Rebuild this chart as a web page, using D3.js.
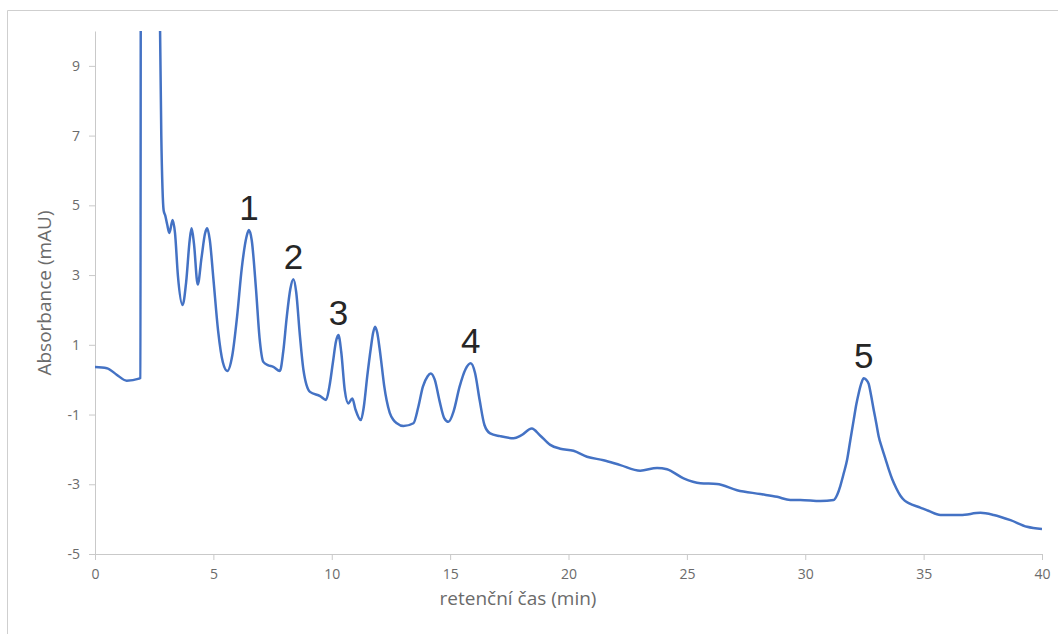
<!DOCTYPE html>
<html>
<head>
<meta charset="utf-8">
<script src="https://cdn.jsdelivr.net/npm/d3@7"></script>
<style>
  body { margin: 0; background: #fff; }
  .axis path, .axis line { stroke: #c9c9c9; }
  .axis text { fill: #6b6b6b; font-family: "Open Sans", sans-serif; font-size: 14px; }
</style>
</head>
<body>
<div id="chart"></div>
<script>
/**
 * Chromatogram values
 */
var times = [
  0, 0.5, 0.9, 1.34, 1.86, 1.92, 1.95, 2.6, 2.74, 2.8, 2.85, 2.9, 2.97, 3.05, 3.14, 3.28, 3.38, 3.5, 3.7, 3.85,
  4.0, 4.08, 4.18, 4.34, 4.5, 4.65, 4.74, 4.85, 5.0, 5.2, 5.4, 5.59, 5.8, 6.0, 6.2, 6.4, 6.5, 6.62, 6.8, 6.95,
  7.11, 7.3, 7.53, 7.81, 7.95, 8.1, 8.25, 8.38, 8.5, 8.65, 8.8, 9.08, 9.51, 9.76, 9.9, 10.05, 10.18, 10.28, 10.4, 10.55,
  10.7, 10.87, 11.0, 11.23, 11.35, 11.5, 11.65, 11.75, 11.83, 11.92, 12.02, 12.12, 12.22, 12.32, 12.45, 12.6, 12.75, 13.03, 13.45, 13.65,
  13.85, 14.05, 14.18, 14.35, 14.55, 14.75, 14.93, 15.15, 15.4, 15.65, 15.87, 16.05, 16.25, 16.45, 16.69, 17.11, 17.68, 18.0, 18.45, 18.8,
  19.23, 19.65, 20.21, 20.78, 21.48, 22.19, 23.03, 23.74, 24.16, 24.86, 25.57, 26.27, 27.12, 28.1, 28.81, 29.37, 29.79, 30.64, 31.2, 31.35,
  31.48, 31.62, 31.77, 31.9, 32.05, 32.16, 32.26, 32.37, 32.47, 32.57, 32.68, 32.78, 32.89, 33.0, 33.1, 33.25, 33.39, 33.53, 33.67, 33.85,
  34.02, 34.2, 34.37, 34.86, 35.2, 35.71, 36.56, 37.4, 37.96, 38.67, 39.37, 40
];
var absorbance = [
  0.36, 0.33, 0.15, -0.03, 0.03, 0.05, 30, 30, 10.5, 7.0, 5.5, 4.85, 4.7, 4.45, 4.21, 4.58, 4.2, 3.0, 2.14, 2.8,
  4.0, 4.34, 3.9, 2.73, 3.5, 4.2, 4.34, 4.0, 2.9, 1.4, 0.5, 0.25, 0.7, 1.8, 3.2, 4.1, 4.29, 4.0, 2.6, 1.2,
  0.51, 0.42, 0.37, 0.25, 0.8, 1.8, 2.6, 2.88, 2.5, 1.3, 0.3, -0.35, -0.47, -0.58, -0.2, 0.5, 1.1, 1.28, 0.8, -0.3,
  -0.68, -0.54, -0.85, -1.16, -0.8, 0.1, 0.9, 1.35, 1.52, 1.35, 0.9, 0.35, -0.2, -0.6, -0.95, -1.15, -1.25, -1.33, -1.25, -0.8,
  -0.2, 0.1, 0.18, 0.0, -0.6, -1.1, -1.21, -0.9, -0.2, 0.3, 0.47, 0.2, -0.6, -1.3, -1.54, -1.62, -1.68, -1.6, -1.4, -1.6,
  -1.87, -1.98, -2.04, -2.21, -2.31, -2.45, -2.61, -2.53, -2.57, -2.83, -2.97, -2.99, -3.17, -3.28, -3.36, -3.45, -3.45, -3.48, -3.45, -3.3,
  -3.05, -2.7, -2.29, -1.75, -1.14, -0.7, -0.38, -0.1, 0.04, 0.0, -0.12, -0.45, -0.86, -1.25, -1.62, -1.98, -2.28, -2.58, -2.85, -3.12,
  -3.33, -3.47, -3.54, -3.67, -3.76, -3.88, -3.88, -3.82, -3.88, -4.03, -4.22, -4.28
];

// numbered peaks
var peakNames = ["1", "2", "3", "4", "5"];
var peakTimes = [6.5, 8.38, 10.28, 15.87, 32.47];
var peakHeights = [4.29, 2.88, 1.28, 0.47, 0.04];

var xTicks = [0, 5, 10, 15, 20, 25, 30, 35, 40];
var yTicks = [-5, -3, -1, 1, 3, 5, 7, 9];

var width = 1058;
var height = 634;
var margin = {top: 31, right: 16, bottom: 80, left: 95};

var svg = d3.select("#chart").append("svg")
  .attr("width", width)
  .attr("height", height);

// light frame round the chart
svg.append("path")
  .attr("d", "M7.5," + height + "V10.5H" + width)
  .attr("fill", "none")
  .attr("stroke", "#cfcfcf");

var x = d3.scaleLinear().domain([0, 40]).range([margin.left, width - margin.right]);
var y = d3.scaleLinear().domain([-5, 10]).range([height - margin.bottom, margin.top]);

svg.append("clipPath").attr("id", "plot")
  .append("rect")
  .attr("x", margin.left)
  .attr("y", margin.top)
  .attr("width", width - margin.right - margin.left)
  .attr("height", height - margin.bottom - margin.top);

// plain hyphen for negatives, like the original
var plain = function(d) { return String(d); };

svg.append("g")
  .attr("class", "axis")
  .attr("transform", "translate(0," + (height - margin.bottom) + ")")
  .call(d3.axisBottom(x).tickValues(xTicks).tickFormat(plain).tickSize(6).tickSizeOuter(0).tickPadding(9));

svg.append("g")
  .attr("class", "axis")
  .attr("transform", "translate(" + margin.left + ",0)")
  .call(d3.axisLeft(y).tickValues(yTicks).tickFormat(plain).tickSize(6).tickSizeOuter(0).tickPadding(9));

var points = times.map(function(t, i) { return [t, absorbance[i]]; });

var line = d3.line()
  .x(function(d) { return x(d[0]); })
  .y(function(d) { return y(d[1]); })
  .curve(d3.curveMonotoneX);

svg.append("path")
  .datum(points)
  .attr("clip-path", "url(#plot)")
  .attr("fill", "none")
  .attr("stroke", "#4472c4")
  .attr("stroke-width", 2.5)
  .attr("stroke-linejoin", "round")
  .attr("d", line);

// peak numbers
svg.selectAll(".peak")
  .data(peakNames)
  .enter().append("text")
  .attr("class", "peak")
  .attr("x", function(d, i) { return x(peakTimes[i]); })
  .attr("y", function(d, i) { return y(peakHeights[i]) - 10; })
  .attr("text-anchor", "middle")
  .attr("font-family", "'Liberation Sans', Arial, sans-serif")
  .attr("font-size", 35)
  .attr("fill", "#262626")
  .text(function(d) { return d; });

// axis titles
svg.append("text")
  .attr("x", 518)
  .attr("y", 605)
  .attr("text-anchor", "middle")
  .attr("font-family", "'Open Sans', sans-serif")
  .attr("font-size", 19)
  .attr("fill", "#6b6b6b")
  .text("retenční čas (min)");

svg.append("text")
  .attr("transform", "translate(51," + 293 + ") rotate(-90)")
  .attr("text-anchor", "middle")
  .attr("font-family", "'Open Sans', sans-serif")
  .attr("font-size", 19)
  .attr("fill", "#6b6b6b")
  .text("Absorbance (mAU)");
</script>
</body>
</html>
